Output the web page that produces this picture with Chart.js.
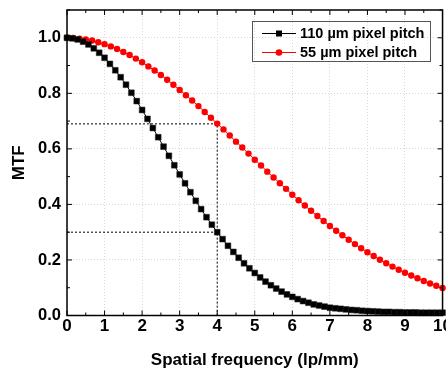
<!DOCTYPE html>
<html>
<head>
<meta charset="utf-8">
<script src="https://cdn.jsdelivr.net/npm/chart.js@4.4.0/dist/chart.umd.min.js"></script>
<style>
  html, body { margin: 0; padding: 0; background: #fff; overflow: hidden; }
  #wrap { width: 446px; height: 369px; overflow: hidden; }
</style>
</head>
<body>
<div id="wrap"><canvas id="mtfChart" width="453" height="369"></canvas></div>
<script>
// spatial frequency (lp/mm) and MTF
const freq110 = [0, 0.143, 0.286, 0.429, 0.571, 0.714, 0.857, 1, 1.143, 1.286,
  1.429, 1.571, 1.714, 1.857, 2, 2.143, 2.286, 2.429, 2.571, 2.714,
  2.857, 3, 3.143, 3.286, 3.429, 3.571, 3.714, 3.857, 4, 4.143,
  4.286, 4.429, 4.571, 4.714, 4.857, 5, 5.143, 5.286, 5.429, 5.571,
  5.714, 5.857, 6, 6.143, 6.286, 6.429, 6.571, 6.714, 6.857, 7,
  7.143, 7.286, 7.429, 7.571, 7.714, 7.857, 8, 8.143, 8.286, 8.429,
  8.571, 8.714, 8.857, 9, 9.143, 9.286, 9.429, 9.571, 9.714, 9.857,
  10];
const mtf110 = [1.000, 0.998, 0.994, 0.986, 0.976, 0.962, 0.946, 0.928, 0.906, 0.883,
  0.858, 0.831, 0.802, 0.772, 0.740, 0.708, 0.675, 0.642, 0.608, 0.575,
  0.541, 0.508, 0.476, 0.444, 0.413, 0.383, 0.354, 0.327, 0.300, 0.275,
  0.251, 0.229, 0.208, 0.188, 0.170, 0.153, 0.137, 0.122, 0.109, 0.097,
  0.086, 0.076, 0.067, 0.059, 0.052, 0.046, 0.040, 0.036, 0.032, 0.028,
  0.026, 0.024, 0.022, 0.020, 0.019, 0.017, 0.016, 0.015, 0.014, 0.013,
  0.013, 0.012, 0.012, 0.011, 0.011, 0.011, 0.010, 0.010, 0.010, 0.010,
  0.010];

const freq55 = [0, 0.167, 0.333, 0.5, 0.667, 0.833, 1, 1.167, 1.333, 1.5,
  1.667, 1.833, 2, 2.167, 2.333, 2.5, 2.667, 2.833, 3, 3.167,
  3.333, 3.5, 3.667, 3.833, 4, 4.167, 4.333, 4.5, 4.667, 4.833,
  5, 5.167, 5.333, 5.5, 5.667, 5.833, 6, 6.167, 6.333, 6.5,
  6.667, 6.833, 7, 7.167, 7.333, 7.5, 7.667, 7.833, 8, 8.167,
  8.333, 8.5, 8.667, 8.833, 9, 9.167, 9.333, 9.5, 9.667, 9.833,
  10];
const mtf55 = [1.000, 0.999, 0.997, 0.994, 0.990, 0.984, 0.977, 0.969, 0.960, 0.949,
  0.938, 0.925, 0.912, 0.897, 0.882, 0.866, 0.849, 0.831, 0.812, 0.793,
  0.774, 0.754, 0.733, 0.712, 0.691, 0.670, 0.648, 0.626, 0.605, 0.583,
  0.561, 0.540, 0.518, 0.497, 0.476, 0.456, 0.435, 0.415, 0.396, 0.377,
  0.358, 0.340, 0.322, 0.305, 0.289, 0.273, 0.257, 0.242, 0.228, 0.214,
  0.201, 0.188, 0.176, 0.165, 0.154, 0.144, 0.134, 0.124, 0.115, 0.107,
  0.099];

// dotted guide lines at 4 lp/mm
const guideUpperX = [0, 4, 4];
const guideUpperY = [0.69, 0.69, 0];
const guideLowerX = [0, 4];
const guideLowerY = [0.30, 0.30];

const FONT = "'Liberation Sans', Arial, sans-serif";
const toXY = (xs, ys) => xs.map((x, i) => ({ x: x, y: ys[i] }));

// Origin-style frame with inward ticks on all four sides
const framePlugin = {
  id: 'frame',
  afterDatasetsDraw(chart) {
    const { ctx, chartArea: a, scales: { x, y } } = chart;
    ctx.save();
    ctx.strokeStyle = '#000';
    ctx.lineWidth = 1;
    for (let v = 0; v <= 20; v++) {
      const px = x.getPixelForValue(v / 2);
      const len = v % 2 === 0 ? 5 : 3;
      ctx.beginPath();
      ctx.moveTo(px, a.bottom); ctx.lineTo(px, a.bottom - len);
      ctx.moveTo(px, a.top); ctx.lineTo(px, a.top + len);
      ctx.stroke();
    }
    for (let v = 0; v <= 11; v++) {
      const py = y.getPixelForValue(v / 10);
      const len = v % 2 === 0 ? 5 : 3;
      ctx.beginPath();
      ctx.moveTo(a.left, py); ctx.lineTo(a.left + len, py);
      ctx.moveTo(a.right, py); ctx.lineTo(a.right - len, py);
      ctx.stroke();
    }
    ctx.lineWidth = 1.5;
    ctx.strokeRect(a.left, a.top, a.right - a.left, a.bottom - a.top);
    ctx.restore();
  },
  afterDraw(chart) {
    const ctx = chart.ctx;
    ctx.save();
    ctx.strokeStyle = '#555';
    ctx.lineWidth = 1;
    ctx.strokeRect(252.5, 21.5, 178, 40);
    const rows = [
      { y: 33.5, color: '#000', shape: 'rect', text: '110 \u00b5m pixel pitch' },
      { y: 52.5, color: '#ff0000', shape: 'circle', text: '55 \u00b5m pixel pitch' }
    ];
    rows.forEach(r => {
      ctx.strokeStyle = r.color;
      ctx.fillStyle = r.color;
      ctx.beginPath();
      ctx.moveTo(262, r.y); ctx.lineTo(296, r.y);
      ctx.stroke();
      if (r.shape === 'rect') {
        ctx.fillRect(276, r.y - 3, 6, 6);
      } else {
        ctx.beginPath();
        ctx.arc(279, r.y, 3.3, 0, Math.PI * 2);
        ctx.fill();
      }
      ctx.fillStyle = '#000';
      ctx.font = 'bold 14.5px ' + FONT;
      ctx.textBaseline = 'middle';
      ctx.fillText(r.text, 300, r.y + 0.5);
    });
    ctx.restore();
  }
};

const ctx = document.getElementById('mtfChart').getContext('2d');
new Chart(ctx, {
  type: 'scatter',
  data: {
    datasets: [{
      label: '110 \u00b5m pixel pitch',
      data: toXY(freq110, mtf110),
      showLine: true,
      borderColor: '#000',
      borderWidth: 1,
      backgroundColor: '#000',
      pointStyle: 'rect',
      pointRadius: 4.1,
      pointBorderWidth: 0.5,
      pointBorderColor: '#222',
      clip: false,
      order: 1
    }, {
      label: '55 \u00b5m pixel pitch',
      data: toXY(freq55, mtf55),
      showLine: true,
      borderColor: '#ff0000',
      borderWidth: 1,
      backgroundColor: '#ff0000',
      pointStyle: 'circle',
      pointRadius: 3.2,
      pointBorderWidth: 0,
      clip: false,
      order: 2
    }, {
      label: 'guide upper',
      data: toXY(guideUpperX, guideUpperY),
      showLine: true,
      borderColor: '#000',
      borderWidth: 1,
      borderDash: [2, 2],
      pointRadius: 0,
      order: 3
    }, {
      label: 'guide lower',
      data: toXY(guideLowerX, guideLowerY),
      showLine: true,
      borderColor: '#000',
      borderWidth: 1,
      borderDash: [2, 2],
      pointRadius: 0,
      order: 3
    }]
  },
  options: {
    responsive: false,
    animation: false,
    layout: { padding: { top: 10, left: 0, right: 0, bottom: 0 } },
    plugins: { legend: { display: false }, tooltip: { enabled: false } },
    scales: {
      x: {
        type: 'linear',
        min: 0,
        max: 10,
        afterFit: s => { s.height = 53.5; },
        ticks: { stepSize: 1, padding: 1, maxRotation: 0, color: '#000',
          font: { family: FONT, size: 17, weight: 'bold' } },
        grid: { color: '#d8d8d8', lineWidth: 1, drawTicks: false },
        border: { display: false, dash: [1, 2] },
        title: { display: true, text: 'Spatial frequency (lp/mm)', color: '#000',
          font: { family: FONT, size: 17, weight: 'bold' }, padding: { top: 9, bottom: -2 } }
      },
      y: {
        type: 'linear',
        min: 0,
        max: 1.1,
        afterFit: s => { s.width = 67; s.paddingTop = 0; s.paddingBottom = 0; },
        ticks: { stepSize: 0.2, includeBounds: false, padding: 6, color: '#000',
          font: { family: FONT, size: 16.5, weight: 'bold' },
          callback: v => v.toFixed(1) },
        grid: { color: '#d8d8d8', lineWidth: 1, drawTicks: false },
        border: { display: false, dash: [1, 2] },
        title: { display: true, text: 'MTF', color: '#000',
          font: { family: FONT, size: 17, weight: 'bold' }, padding: { top: 9, bottom: 0 } }
      }
    }
  },
  plugins: [framePlugin]
});
</script>
</body>
</html>
